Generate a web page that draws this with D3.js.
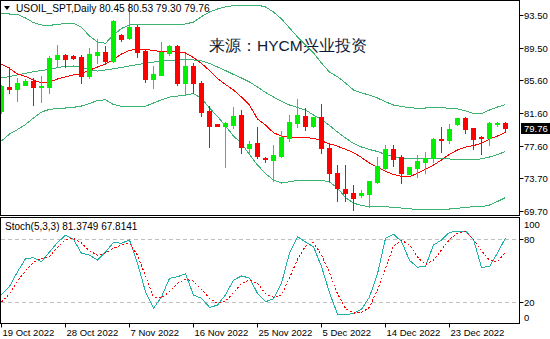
<!DOCTYPE html>
<html><head><meta charset="utf-8">
<script src="https://cdn.jsdelivr.net/npm/d3@7"></script>
<style>
html,body{margin:0;padding:0;background:#fff;}
svg{display:block;}
text{font-family:"Liberation Sans",Arial,sans-serif;}
</style></head>
<body><svg id="c" width="550" height="339"></svg>
<script>
// ---- data ----
const symbol = "USOIL_SPT,Daily";
const watermark = "来源：HYCM兴业投资";
const opens  = [81.90,84.81,84.53,85.05,85.47,84.77,84.81,88.17,88.69,88.57,88.41,86.11,88.65,89.05,87.96,91.04,90.68,92.08,89.14,85.78,86.27,88.93,89.74,85.30,87.32,85.30,81.87,80.29,80.08,80.17,81.34,77.42,78.02,76.13,75.96,76.41,78.63,80.45,81.26,80.05,81.10,77.38,74.35,72.41,71.96,71.72,71.77,73.22,74.99,77.22,76.25,74.27,74.99,75.72,76.13,78.51,78.39,80.33,81.02,79.81,78.68,78.63,80.29,80.45];
const highs  = [85.02,87.16,85.83,85.71,85.83,86.11,88.53,89.87,88.81,88.65,88.69,89.50,90.56,89.74,92.90,91.20,94.90,92.29,89.20,87.32,90.23,89.90,89.90,88.77,87.65,85.54,82.47,80.33,80.53,82.31,81.99,78.23,79.96,76.33,77.74,79.48,81.38,83.28,82.23,81.20,82.68,78.02,75.32,75.32,72.90,72.29,73.38,76.33,77.74,77.74,76.53,75.06,76.53,76.93,78.63,79.96,80.29,81.02,81.17,79.85,78.84,80.53,80.57,80.53];
const lows   = [81.66,84.08,83.11,85.00,82.63,82.99,84.08,87.32,87.16,88.21,85.30,85.90,87.72,87.72,87.80,90.39,90.59,88.45,85.42,84.69,86.20,88.69,85.02,83.93,84.08,81.26,77.47,80.00,75.11,79.77,76.74,76.81,76.13,75.72,73.42,76.35,78.23,79.89,79.56,79.89,76.74,73.42,70.99,70.99,69.87,71.48,70.19,73.15,74.80,75.24,73.17,74.25,73.90,74.31,75.72,76.93,77.95,80.21,79.16,77.22,76.65,77.71,80.05,79.30];
const closes = [84.90,84.53,85.30,85.47,84.81,84.93,88.29,88.69,88.17,88.29,86.14,88.77,89.05,87.96,92.77,90.56,92.08,89.05,85.71,86.35,89.05,89.74,85.22,87.32,85.22,81.78,80.08,80.05,80.41,81.26,77.47,77.90,76.41,76.05,76.53,78.71,80.53,81.34,80.05,81.17,77.34,74.39,72.50,71.89,71.28,71.89,73.34,75.20,77.22,76.08,74.39,75.04,75.80,76.17,78.44,78.39,79.68,81.02,79.72,78.51,78.56,80.37,80.37,79.76];
const bbUpper = [93.68,93.62,93.56,93.14,92.57,92.29,92.25,92.35,92.47,92.50,91.99,90.96,90.23,90.07,91.08,91.87,92.29,92.35,92.37,92.37,92.37,92.37,92.37,92.41,92.65,93.30,93.87,94.23,94.47,94.65,94.71,94.71,94.71,94.47,93.87,93.02,91.93,90.84,89.87,88.90,87.68,86.59,86.02,85.26,84.41,84.05,83.80,83.44,82.99,82.59,82.41,82.29,82.17,82.23,82.31,82.31,82.17,82.11,81.87,81.56,81.56,81.99,82.35,82.65];
const bbMiddle = [85.87,86.05,86.23,86.44,86.63,86.77,86.92,87.10,87.30,87.32,87.14,86.86,86.71,86.84,86.98,87.14,87.32,87.50,87.65,87.80,87.96,88.01,88.05,88.05,88.05,87.93,87.62,87.20,86.77,86.29,85.87,85.38,84.77,84.11,83.56,83.02,82.59,82.29,81.99,81.38,80.84,80.11,79.32,78.59,77.93,77.50,77.20,76.96,76.59,76.35,76.17,76.05,76.05,76.05,76.05,76.05,76.05,75.99,75.93,75.93,76.07,76.29,76.59,76.96];
const bbLower = [78.23,79.08,79.62,80.23,81.02,81.74,82.07,82.17,82.23,82.31,82.47,82.77,83.14,83.22,82.65,82.44,82.39,82.40,82.45,82.83,83.22,83.56,83.68,83.80,83.99,83.38,82.23,81.20,80.05,78.84,77.93,76.59,75.32,74.29,73.50,73.14,73.30,73.44,73.50,73.50,73.50,73.26,72.53,71.38,70.71,70.41,70.27,70.27,70.27,70.19,70.11,70.01,69.95,69.95,69.96,69.97,69.99,70.07,70.19,70.27,70.27,70.47,70.90,71.38];
const maRed = [87.56,87.02,86.35,86.07,85.60,85.30,85.38,85.74,86.01,86.23,86.41,86.80,87.20,87.56,88.11,88.77,89.22,89.34,89.34,89.19,89.05,89.05,89.05,88.90,88.35,87.62,86.77,85.80,85.08,84.41,83.56,82.59,80.90,80.17,79.24,78.80,78.71,78.67,78.62,78.57,78.23,77.90,77.60,77.22,76.84,76.23,75.56,75.02,74.56,74.17,73.95,73.90,74.31,74.80,75.32,75.93,76.63,77.14,77.48,77.68,77.95,78.47,78.84,79.26];
const stochMain = [27,35,49,61.5,62.5,58.7,68,77,84,80,66.7,65,60.3,68,77,76.3,79.4,57,30,14,25,42.8,44.3,47,26.8,23.6,15,17,27,41,45,43,28.4,20.4,23,38,67,82.5,77.5,73,54,29,8.5,7.8,9.3,13,25,47,81,85,78,60,53.3,54.5,74.6,79.5,86.8,87.8,88,80,53.3,54,67,81.3749];
const stochSignal = [20,28,40,50,58,62,63.4,72.5,79.5,81,76.5,69,65,67,71.5,74.5,76.3,65,45,25,24,30,38,42,40,32,23.6,19,21,29,38,41,38,28,24.6,27,43,61,73.5,77,65,48,28,14,9.5,10,15,32,52,73.5,79,75,63,56,60,70,80,86,87.4,80,69,60,58.7,67.8141];
const priceTicks = [93.50,89.50,85.60,81.60,77.60,73.70,69.70];
const stochTicks = [100,80,20,0];
const stochLevels = [80,20];
const dateTickIndex = [0,8,16,24,32,40,48,56];
const dateTickLabels = ["19 Oct 2022","28 Oct 2022","7 Nov 2022","16 Nov 2022","25 Nov 2022","5 Dec 2022","14 Dec 2022","23 Dec 2022"];
const lastPrice = closes[closes.length-1];

// ---- layout ----
const svg = d3.select("#c");
const plotR = 519.5;
const mainTop = 0.5, mainBot = 215.5;
const subTop = 217.5, subBot = 323.5;

const x = d3.scaleLinear().domain([0, closes.length-1]).range([1, 505]);
const y = d3.scaleLinear().domain([69.7, 93.5]).range([211.4, 15]);
const ys = d3.scaleLinear().domain([0, 100]).range([323, 218.5]);

const defs = svg.append("defs");
defs.append("clipPath").attr("id","mainClip").append("rect")
  .attr("x",1).attr("y",1).attr("width",plotR-1.5).attr("height",mainBot-1.5);
defs.append("clipPath").attr("id","subClip").append("rect")
  .attr("x",1).attr("y",subTop+0.5).attr("width",plotR-1.5).attr("height",subBot-subTop-1);
defs.append("clipPath").attr("id","axClip").append("rect")
  .attr("x",plotR).attr("y",0).attr("width",40).attr("height",mainBot);

// ---- main panel ----
const gm = svg.append("g").attr("clip-path","url(#mainClip)");

gm.append("text").attr("x",209).attr("y",51)
  .attr("font-family","'Noto Sans CJK SC',sans-serif").attr("font-size",15.5)
  .attr("fill","#0d1a36").text(watermark);

const line = arr => d3.line().x((d,i)=>x(i)+0.5).y(d=>y(d))(arr);
[bbUpper,bbMiddle,bbLower].forEach(a=>{
  gm.append("path").attr("d",line(a)).attr("fill","none")
    .attr("stroke","#3cb371").attr("stroke-width",1).attr("shape-rendering","crispEdges");
});
gm.append("path").attr("d",line(maRed)).attr("fill","none")
  .attr("stroke","#ff0000").attr("stroke-width",1).attr("shape-rendering","crispEdges");

const candles = closes.map((c,i)=>({i,o:opens[i],h:highs[i],l:lows[i],c}));
const cg = gm.append("g").attr("shape-rendering","crispEdges");
cg.selectAll("line.w").data(candles).join("line")
  .attr("x1",d=>x(d.i)+0.5).attr("x2",d=>x(d.i)+0.5)
  .attr("y1",d=>Math.round(y(d.h))).attr("y2",d=>Math.round(y(d.l))+1)
  .attr("stroke",d=>d.c>=d.o?"#00f000":"#ff0000");
cg.selectAll("rect.b").data(candles).join("rect")
  .attr("x",d=>x(d.i)-2).attr("width",5)
  .attr("y",d=>Math.round(y(Math.max(d.o,d.c))))
  .attr("height",d=>Math.max(1,Math.round(y(Math.min(d.o,d.c)))-Math.round(y(Math.max(d.o,d.c)))+1))
  .attr("fill",d=>d.c>=d.o?"#00f000":"#ff0000");

// title
svg.append("path").attr("d","M4,6 L10,6 L7,10 Z").attr("fill","#000");
svg.append("text").attr("x",16).attr("y",12).attr("font-size",10.2).attr("fill","#000")
  .text(symbol+" "+[opens.at(-1),highs.at(-1),lows.at(-1),closes.at(-1)].map(v=>v.toFixed(2)).join(" "));

// ---- stochastic panel ----
const gs = svg.append("g").attr("clip-path","url(#subClip)");
stochLevels.forEach(v=>{
  gs.append("line").attr("x1",1).attr("x2",plotR).attr("y1",Math.round(ys(v))+0.5).attr("y2",Math.round(ys(v))+0.5)
    .attr("stroke","#c0c0c0").attr("stroke-dasharray","4,3");
});
const sline = arr => d3.line().x((d,i)=>x(i)+0.5).y(d=>ys(d))(arr);
gs.append("path").attr("d",sline(stochMain)).attr("fill","none").attr("stroke","#20b2aa")
  .attr("stroke-width",1).attr("shape-rendering","crispEdges");
gs.append("path").attr("d",sline(stochSignal)).attr("fill","none").attr("stroke","#ff0000")
  .attr("stroke-width",1).attr("stroke-dasharray","2,2").attr("shape-rendering","crispEdges");
svg.append("text").attr("x",5).attr("y",230).attr("font-size",10).attr("fill","#000")
  .text("Stoch(5,3,3) "+stochMain.at(-1).toFixed(4)+" "+stochSignal.at(-1).toFixed(4));

// ---- frames ----
svg.append("rect").attr("x",0.5).attr("y",mainTop).attr("width",plotR-0.5).attr("height",mainBot-mainTop)
  .attr("fill","none").attr("stroke","#000");
svg.append("rect").attr("x",0.5).attr("y",subTop).attr("width",plotR-0.5).attr("height",subBot-subTop)
  .attr("fill","none").attr("stroke","#000");

// ---- right price axis ----
const ax = svg.append("g").attr("clip-path","url(#axClip)");
priceTicks.forEach(v=>{
  const yy = Math.round(y(v))+0.5;
  ax.append("line").attr("x1",plotR).attr("x2",plotR+4).attr("y1",yy).attr("y2",yy).attr("stroke","#000");
  ax.append("text").attr("x",524).attr("y",yy+3.5).attr("font-size",9.5).attr("fill","#000").text(v.toFixed(2));
});
const ly = Math.round(y(lastPrice))+0.5;
svg.append("rect").attr("x",521).attr("y",ly-5.5).attr("width",29).attr("height",11).attr("fill","#000");
svg.append("text").attr("x",524).attr("y",ly+3.5).attr("font-size",9.5).attr("fill","#fff").text(lastPrice.toFixed(2));

// stochastic axis
stochTicks.forEach(v=>{
  const yy = Math.round(ys(v))+0.5;
  const ty = Math.min(Math.max(yy, subTop+7), subBot-6);
  if (v!==100 && v!==0) svg.append("line").attr("x1",plotR).attr("x2",plotR+4).attr("y1",yy).attr("y2",yy).attr("stroke","#000");
  svg.append("text").attr("x",524).attr("y",ty+3.5).attr("font-size",9.5).attr("fill","#000").text(v);
});

// ---- date axis ----
dateTickIndex.forEach((idx,k)=>{
  const xx = x(idx)+0.5;
  svg.append("line").attr("x1",xx).attr("x2",xx).attr("y1",subBot).attr("y2",subBot+4).attr("stroke","#000");
  svg.append("text").attr("x",xx+1).attr("y",336).attr("font-size",9.5).attr("fill","#000").text(dateTickLabels[k]);
});
</script></body></html>
